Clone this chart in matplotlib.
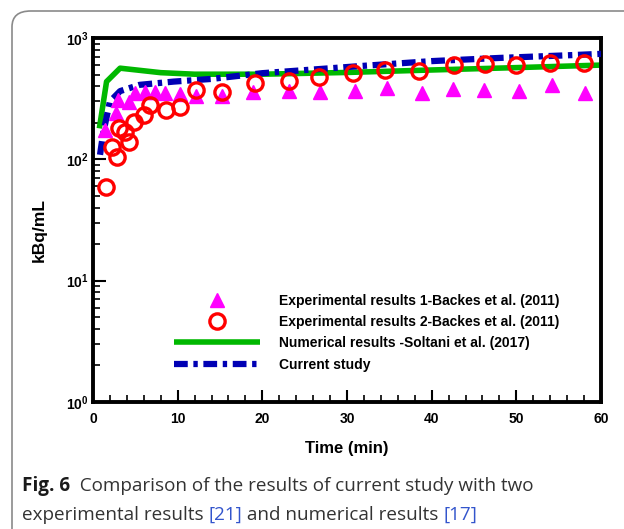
import matplotlib
matplotlib.use("Agg")
import matplotlib.pyplot as plt
from matplotlib.patches import FancyBboxPatch
from matplotlib.ticker import FixedLocator, FixedFormatter, MultipleLocator, LogLocator, NullFormatter

plt.rcParams['font.family'] = ['Liberation Sans', 'DejaVu Sans']
plt.rcParams['mathtext.fontset'] = 'custom'
plt.rcParams['mathtext.rm'] = 'Liberation Sans'
plt.rcParams['mathtext.bf'] = 'Liberation Sans:bold'

# Experimental results 1 (triangles)
exp1_t = [1.4, 2.7, 3.0, 4.3, 5.0, 6.1, 7.3, 8.5, 10.3, 12.2, 15.2, 18.9, 23.1,
          26.8, 30.9, 34.7, 38.8, 42.5, 46.2, 50.3, 54.2, 58.1]
exp1_v = [175, 240, 309, 298, 351, 361, 361, 351, 345, 330, 333, 361, 368,
          361, 366, 390, 355, 378, 373, 368, 411, 355]

# Experimental results 2 (circles)
exp2_t = [1.5, 2.3, 2.8, 3.1, 3.8, 4.3, 4.8, 6.0, 6.7, 8.6, 10.3, 12.2, 15.2,
          19.1, 23.1, 26.7, 30.7, 34.5, 38.5, 42.6, 46.3, 50.0, 54.0, 58.0]
exp2_v = [59, 126, 105, 180, 169, 140, 203, 232, 278, 254, 272, 370, 361,
          424, 446, 481, 510, 546, 539, 600, 608, 600, 620, 627]

# Numerical results - Soltani et al. (2017)
num_t = [0.75, 1.6, 3.2, 8.0, 12.0, 20.0, 30.0, 40.0, 50.0, 60.0]
num_v = [180, 437, 564, 518, 503, 503, 520, 545, 570, 598]

# Current study
cur_t = [0.83, 1.2, 2.0, 3.2, 5.5, 9.5, 14.0, 20.0, 26.0, 32.0, 40.0, 48.0, 56.0, 60.0]
cur_v = [109, 164, 300, 365, 411, 437, 460, 513, 550, 590, 645, 685, 720, 740]

labels = ["Experimental results 1-Backes et al. (2011)",
          "Experimental results 2-Backes et al. (2011)",
          "Numerical results -Soltani et al. (2017)",
          "Current study"]

fig = plt.figure(figsize=(6.24, 5.29), dpi=100)
W, H = 624, 529

# rounded frame
frame = FancyBboxPatch((12 / W, -0.2), 1.2, (H - 11) / H + 0.2,
                       boxstyle="round,pad=0,rounding_size=0.03",
                       transform=fig.transFigure, facecolor='none',
                       edgecolor='#8a8a8a', linewidth=1.2, clip_on=False)
fig.patches.append(frame)

ax = fig.add_axes([93 / W, 1 - 402 / H, (601 - 93) / W, (402 - 38) / H])

ax.plot(num_t, num_v, color='#00b800', linewidth=4, solid_capstyle='butt',
        label=labels[2], zorder=2)
ax.plot(cur_t, cur_v, color='#0000b4', linewidth=4.5,
        linestyle=(0, (2.2, 0.9, 0.7, 0.9)), label=labels[3], zorder=3)
ax.plot(exp1_t, exp1_v, linestyle='none', marker='^', markersize=9.5,
        color='#ff00ff', markeredgecolor='#ff00ff', label=labels[0], zorder=4)
ax.plot(exp2_t, exp2_v, linestyle='none', marker='o', markersize=11,
        markerfacecolor='none', markeredgecolor='#ff0000', markeredgewidth=2.4,
        label=labels[1], zorder=5)

ax.set_yscale('log')
ax.set_xlim(0, 60)
ax.set_ylim(1, 1000)

ax.xaxis.set_major_locator(MultipleLocator(10))
ax.xaxis.set_minor_locator(MultipleLocator(2))
ax.yaxis.set_major_locator(FixedLocator([1, 10, 100, 1000]))
ax.yaxis.set_major_formatter(FixedFormatter([r'$\mathbf{10^{0}}$', r'$\mathbf{10^{1}}$',
                                              r'$\mathbf{10^{2}}$', r'$\mathbf{10^{3}}$']))
ax.yaxis.set_minor_locator(LogLocator(base=10, subs=range(2, 10)))
ax.yaxis.set_minor_formatter(NullFormatter())

for lab in ax.get_xticklabels():
    lab.set_fontweight('bold')
ax.tick_params(axis='both', which='major', direction='in', length=9, width=1.5,
               labelsize=10, top=False, right=False)
ax.tick_params(axis='both', which='minor', direction='in', length=5, width=1.2,
               top=False, right=False)
ax.tick_params(axis='x', pad=7)
ax.tick_params(axis='y', pad=3)
for s in ax.spines.values():
    s.set_linewidth(2.8)

ax.set_xlabel('Time (min)', fontsize=12, fontweight='bold', labelpad=11)
ax.set_ylabel('kBq/mL', fontsize=12.5, fontweight='bold', labelpad=12)
ax.yaxis.set_label_coords(-0.092, 0.473)

handles, labs = ax.get_legend_handles_labels()
order = [labs.index(l) for l in labels]
ax.legend([handles[i] for i in order], [labs[i] for i in order],
          loc='upper left', bbox_to_anchor=(0.159, 0.297), frameon=False,
          borderpad=0, borderaxespad=0, handlelength=6.2, handletextpad=1.37,
          labelspacing=0.52, prop={'weight': 'bold', 'size': 10})

# Caption
renderer = fig.canvas.get_renderer()
cap_font = ['Open Sans', 'DejaVu Sans']

def draw_pieces(pieces, x0, y0, size):
    x = x0
    for txt, color, weight in pieces:
        t = fig.text(x / W, 1 - y0 / H, txt, color=color, fontsize=size,
                     fontweight=weight, family=cap_font, va='baseline', ha='left')
        bb = t.get_window_extent(renderer=renderer)
        x = bb.x1

draw_pieces([("Fig. 6", '#1a1a1a', 'bold'),
             ("  Comparison of the results of current study with two", '#333333', 'normal')],
            22, 491, 13.6)
draw_pieces([("experimental results ", '#333333', 'normal'),
             ("[21]", '#3355cc', 'normal'),
             (" and numerical results ", '#333333', 'normal'),
             ("[17]", '#3355cc', 'normal')],
            22, 520, 13.6)

fig.savefig('out.png', dpi=100)
